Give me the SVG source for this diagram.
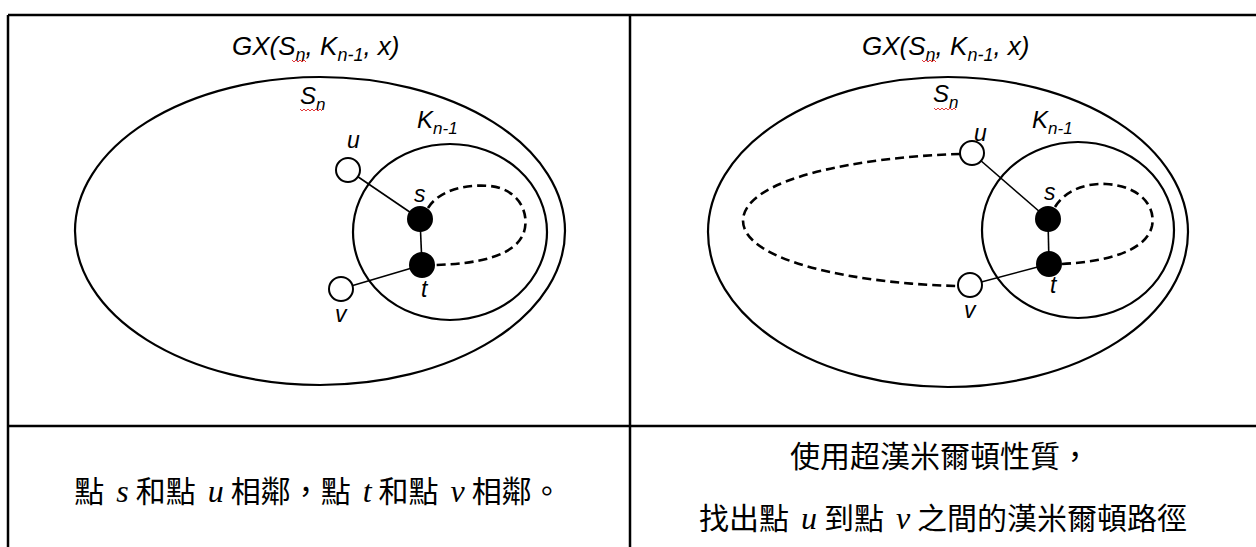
<svg xmlns="http://www.w3.org/2000/svg" width="1256" height="547" viewBox="0 0 1256 547">
<style>
.tbl{stroke:#000;stroke-width:2.5;fill:none}
.ring{stroke:#000;stroke-width:2.2;fill:none}
.edge{stroke:#000;stroke-width:1.6;fill:none}
.dash{stroke:#000;stroke-width:2.6;fill:none;stroke-dasharray:9 5}
.open{fill:#fff;stroke:#000;stroke-width:2}
.solid{fill:#000;stroke:#000;stroke-width:2}
.lbl{font-family:"Liberation Sans",Arial,sans-serif;font-style:italic;fill:#000}
.title{font-size:26px}
.set{font-size:24px}
.nl{font-size:23px}
.sq{stroke:#e23a3a;stroke-width:1;fill:none}
.cjk{font-family:"Noto Sans CJK TC","Noto Sans CJK SC",sans-serif;font-size:30px;fill:#000}
.m{font-family:"Liberation Serif","DejaVu Serif",serif;font-style:italic;font-size:32px}
</style>
<rect width="1256" height="547" fill="#fff"/>
<g id="table">
<line class="tbl" x1="8" y1="15" x2="1256" y2="15"/>
<line class="tbl" x1="8" y1="15" x2="8" y2="547"/>
<line class="tbl" x1="630" y1="15" x2="630" y2="547"/>
<line class="tbl" x1="8" y1="426" x2="1256" y2="426"/>
</g>
<g id="left-panel">
<g id="L-Sn"><ellipse class="ring" cx="320" cy="231" rx="245" ry="154"/></g>
<g id="L-Kn1"><ellipse class="ring" cx="450" cy="232" rx="97" ry="88"/></g>
<g id="L-connectors">
<line class="edge" x1="348" y1="170" x2="420" y2="219"/>
<line class="edge" x1="341" y1="289" x2="422" y2="265"/>
<line class="edge" x1="420" y1="219" x2="422" y2="265"/>
<path class="dash" d="M428,208 C440,189 468,184 490,186 C518,189 530,212 524,232 C516,256 478,264 434,265"/>
</g>
<g id="L-u"><circle class="open" cx="348" cy="170" r="12"/></g>
<g id="L-v"><circle class="open" cx="341" cy="289" r="12"/></g>
<g id="L-s"><circle class="solid" cx="420" cy="219" r="12"/></g>
<g id="L-t"><circle class="solid" cx="422" cy="265" r="12"/></g>
<text class="lbl title" x="232" y="55">GX(S<tspan font-size="18" dy="6">n</tspan><tspan dy="-6">, K</tspan><tspan font-size="18" dy="6">n-1</tspan><tspan dy="-6">, x)</tspan></text>
<text class="lbl set" x="300" y="104">S<tspan font-size="17" dy="6">n</tspan></text>
<text class="lbl set" x="417" y="128">K<tspan font-size="17" dy="6">n-1</tspan></text>
<text class="lbl nl" x="347" y="148">u</text>
<text class="lbl nl" x="414" y="202">s</text>
<text class="lbl nl" x="421" y="297">t</text>
<text class="lbl nl" x="335" y="322">v</text>
<path class="sq" d="M292,60 l2,2 l2,-2 l2,2 l2,-2 l2,2 l2,-2 l2,2"/>
<path class="sq" d="M300,109 l2,2 l2,-2 l2,2 l2,-2 l2,2 l2,-2 l2,2 l2,-2 l2,2 l2,-2 l2,2"/>
</g>
<g id="right-panel">
<g id="R-Sn"><ellipse class="ring" cx="948" cy="232" rx="240" ry="155"/></g>
<g id="R-Kn1"><ellipse class="ring" cx="1078" cy="230" rx="96" ry="88"/></g>
<g id="R-connectors">
<line class="edge" x1="972" y1="153" x2="1048" y2="219"/>
<line class="edge" x1="970" y1="285" x2="1049" y2="264"/>
<line class="edge" x1="1048" y1="219" x2="1049" y2="264"/>
<path class="dash" d="M1055,207 C1066,189 1088,183 1106,184 C1140,186 1156,206 1152,226 C1146,252 1104,262 1061,264"/>
<path class="dash" d="M960,154 C860,157 745,178 743,220 C742,262 860,284 958,286"/>
</g>
<g id="R-u"><circle class="open" cx="972" cy="153" r="12"/></g>
<g id="R-v"><circle class="open" cx="970" cy="285" r="12"/></g>
<g id="R-s"><circle class="solid" cx="1048" cy="219" r="12"/></g>
<g id="R-t"><circle class="solid" cx="1049" cy="264" r="12"/></g>
<text class="lbl title" x="862" y="55">GX(S<tspan font-size="18" dy="6">n</tspan><tspan dy="-6">, K</tspan><tspan font-size="18" dy="6">n-1</tspan><tspan dy="-6">, x)</tspan></text>
<text class="lbl set" x="933" y="102">S<tspan font-size="17" dy="6">n</tspan></text>
<text class="lbl set" x="1032" y="128">K<tspan font-size="17" dy="6">n-1</tspan></text>
<text class="lbl nl" x="974" y="141">u</text>
<text class="lbl nl" x="1044" y="200">s</text>
<text class="lbl nl" x="1050" y="293">t</text>
<text class="lbl nl" x="964" y="318">v</text>
<path class="sq" d="M922,60 l2,2 l2,-2 l2,2 l2,-2 l2,2 l2,-2 l2,2"/>
<path class="sq" d="M934,108 l2,2 l2,-2 l2,2 l2,-2 l2,2 l2,-2 l2,2 l2,-2 l2,2 l2,-2 l2,2"/>
</g>
<g id="captions">
<text class="cjk" x="318" y="502" text-anchor="middle">點<tspan class="m" dx="12">s</tspan><tspan dx="7">和點</tspan><tspan class="m" dx="12">u</tspan><tspan dx="7">相鄰，點</tspan><tspan class="m" dx="12">t</tspan><tspan dx="7">和點</tspan><tspan class="m" dx="12">v</tspan><tspan dx="7">相鄰。</tspan></text>
<text class="cjk" x="940" y="467" text-anchor="middle">使用超漢米爾頓性質，</text>
<text class="cjk" x="943" y="529" text-anchor="middle">找出點<tspan class="m" dx="12">u</tspan><tspan dx="7">到點</tspan><tspan class="m" dx="12">v</tspan><tspan dx="7">之間的漢米爾頓路徑</tspan></text>
</g>
</svg>
